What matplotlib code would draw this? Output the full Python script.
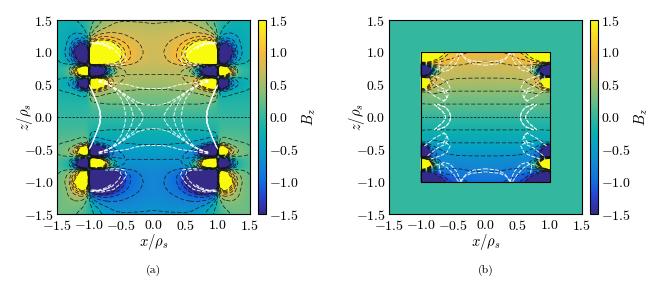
import numpy as np
import matplotlib
matplotlib.use("Agg")
import matplotlib.pyplot as plt
from matplotlib.colors import LinearSegmentedColormap

plt.rcParams["font.family"] = "cmr10"
plt.rcParams["mathtext.fontset"] = "cm"
plt.rcParams["axes.unicode_minus"] = False

parula_colors = ["#352a87", "#2b3fd0", "#0f6fe0", "#1485d4", "#069fc8", "#0dafb0",
                 "#33b7a0", "#6dbd84", "#a3bd6a", "#d1bb59", "#f7ba3c", "#f7d92a", "#f9fb0e"]
parula = LinearSegmentedColormap.from_list("parula", parula_colors)

tick_vals = [-1.5, -1.0, -0.5, 0.0, 0.5, 1.0, 1.5]
tick_labels = [r"$%.1f$" % v for v in tick_vals]
levels = np.array([-14, -12, -10, -8, -6, -4, -2, 2, 4, 6, 8, 10, 12, 14]) / 10

# upper right quadrant of panel (a), the rest follows by mirroring
xa = [0, .2, .4, .5, .6, .7, .8, .9, .98, 1.02, 1.1, 1.2, 1.3, 1.4, 1.5]
za = [0, .2, .4, .45, .5, .55, .6, .65, .72, .78, .82, .9, 1.0, 1.1, 1.2, 1.3, 1.4, 1.5]
Ba = [
    [0, 0, 0, 0, 0, 0, 0, 0, 0, 0, 0, 0, 0, 0, 0],
    [.21, .21, .21, .2, .2, .2, .18, .15, .1, -.05, -.08, -.08, -.08, -.08, -.07],
    [.38, .38, .39, .4, .42, .45, .5, .6, .6, -.3, -.3, -.25, -.22, -.2, -.18],
    [.42, .42, .44, .46, .5, .6, 1.1, 2, 2, -1.8, -1.3, -.5, -.3, -.25, -.2],
    [.47, .47, .5, .53, .58, .9, 2.4, 3, 3, -3, -2.6, -.8, -.45, -.3, -.22],
    [.5, .5, .55, .6, .7, 1.2, 3, 4, 4, -4, -3, -.8, -.4, -.28, -.2],
    [.55, .55, .58, .62, .7, .9, 1.5, 2, 1, -1, -1, -.5, -.3, -.22, -.18],
    [.6, .6, .6, .6, .55, .1, -1.6, -3, -3, 3, 2, .6, .15, -.05, -.1],
    [.62, .64, .62, .55, .2, -.8, -2.5, -4, -4, 4, 3.5, 1.4, .2, 0, -.08],
    [.65, .68, .7, .7, .6, .1, -1.6, -3, -3, 3, 2, .6, .15, -.02, -.1],
    [.7, .72, .85, 1, 1.3, 1.5, 2.2, 3, 3, -1.4, -1.4, -.6, -.3, -.2, -.15],
    [.72, .8, 1.05, 1.35, 2, 3, 4, 4, 4, -3, -2.8, -1.1, -.5, -.3, -.2],
    [.73, .82, 1.05, 1.45, 2.4, 4, 5, 5, 5, -3.5, -3.2, -1.9, -.6, -.35, -.24],
    [.73, .8, 1, 1.2, 1.55, 2.4, 3, 2.5, 1.6, -1, -2, -1.2, -.5, -.33, -.25],
    [.72, .75, .85, .95, 1.05, 1.15, 1.2, 1.1, .8, -.5, -.7, -.6, -.45, -.3, -.24],
    [.68, .7, .75, .78, .8, .8, .75, .6, .3, -.1, -.35, -.4, -.35, -.28, -.24],
    [.62, .64, .66, .66, .65, .6, .5, .35, .15, -.05, -.2, -.27, -.28, -.26, -.24],
    [.57, .58, .58, .58, .56, .5, .4, .25, .1, 0, -.12, -.2, -.24, -.24, -.24],
]

# same for panel (b), inside the box only
xb = [0, .2, .4, .6, .7, .8, .85, .9, .95, 1.0]
zb = [0, .2, .4, .5, .55, .6, .65, .7, .75, .8, .85, .9, .95, 1.0]
Bb = [
    [0, 0, 0, 0, 0, 0, 0, 0, 0, 0],
    [.2, .2, .2, .2, .2, .2, .2, .2, .2, .2],
    [.4, .4, .4, .4, .42, .45, .45, .4, .35, .3],
    [.5, .5, .5, .52, .58, .7, .9, 1.6, 3, 3],
    [.55, .55, .56, .58, .7, .9, 1.3, 2.8, 4, 4],
    [.6, .6, .6, .62, .72, .85, .9, 1.4, 2.4, 3],
    [.64, .64, .66, .68, .72, .6, .2, -.8, -2, -2.4],
    [.67, .68, .7, .7, .6, -.2, -1.6, -3.5, -5, -5],
    [.71, .72, .75, .72, .6, -.2, -1.6, -3.5, -5, -5],
    [.75, .76, .8, .8, .8, .7, .3, -.4, -1.6, -2.4],
    [.79, .82, .84, .88, .95, 1.1, 1.2, 1.4, 1.8, 2],
    [.82, .87, .92, 1.05, 1.25, 1.6, 2, 3, 3, 3],
    [.87, .92, 1, 1.15, 1.5, 2.2, 3, 4, 4, 4],
    [.98, .98, 1.05, 1.3, 1.8, 3, 4, 4, 4, 4],
]

# field lines, upper right quadrant
white_a = [
    ([1.0, .93, .87, .83, .82, .83, .87, .93, 1.0], [.5, .35, .2, .1, 0, -.1, -.2, -.35, -.5]),
    ([.98, .92, .87, .84, .83, .84, .87, .92, .98], [.47, .33, .2, .1, 0, -.1, -.2, -.33, -.47]),
    ([.85, .7, .55, .4, .3, .2, .1, 0], [.57, .54, .52, .5, .47, .45, .44, .44]),
    ([.85, .7, .55, .4, .25, .12, 0], [.56, .5, .42, .32, .23, .19, .18]),
    ([.85, .65, .5, .3, .2, .15], [.55, .47, .38, .22, .1, 0]),
    ([.85, .7, .55, .42, .34, .31], [.55, .5, .42, .28, .12, 0]),
    ([.85, .72, .6, .5, .45, .43], [.54, .52, .42, .28, .13, 0]),
    ([.98, .8, .62, .5, .42, .45, .55, .7], [1.15, 1.16, 1.12, 1.02, .9, .82, .8, .8]),
    ([.98, .8, .65, .55, .5, .52, .62, .75], [1.13, 1.14, 1.08, .98, .9, .84, .82, .82]),
    ([.95, .85, .75, .62], [1.14, 1.14, 1.12, 1.05]),
    ([.95, .85, .75, .65], [1.13, 1.13, 1.1, 1.04]),
]
white_b = [
    ([.75, .62, .56, .54, .56, .62, .75], [.2, .15, .08, 0, -.08, -.15, -.2]),
    ([.8, .68, .64, .62, .64, .68, .8], [.2, .1, .05, 0, -.05, -.1, -.2]),
    ([.38, .3, .18, 0], [1, .88, .82, .8]),
    ([.4, .33, .22, 0], [1, .92, .87, .85]),
    ([.38, .45, .55, .65, .72, .7], [1, .84, .73, .7, .76, .87]),
    ([.42, .5, .6, .7, .78], [1, .88, .78, .72, .75]),
    ([.85, .7, .6, .55, .63, .75], [.65, .6, .55, .45, .38, .42]),
    ([.95, .8, .65, .6, .66], [.45, .33, .25, .3, .42]),
    ([.9, .75, .62, .58, .6, .68], [.6, .48, .42, .35, .28, .22]),
]


def mirror(x, z, B):
    x = np.array(x)
    z = np.array(z)
    B = np.array(B, dtype=float)
    B = np.concatenate([-B[:0:-1], B], axis=0)
    B = np.concatenate([B[:, :0:-1], B], axis=1)
    return np.concatenate([-x[:0:-1], x]), np.concatenate([-z[:0:-1], z]), B


def soften(x, z, B, sigma=0.02, step=0.01):
    # resample the read values on a fine mesh and take the corners off
    gx = np.arange(x[0], x[-1] + step / 2, step)
    gz = np.arange(z[0], z[-1] + step / 2, step)
    F = np.array([np.interp(gx, x, row) for row in B])
    F = np.array([np.interp(gz, z, col) for col in F.T]).T
    n = int(3 * sigma / step)
    k = np.exp(-0.5 * (np.arange(-n, n + 1) * step / sigma) ** 2)
    k = k / k.sum()
    F = np.pad(F, n, mode="edge")
    F = np.apply_along_axis(lambda v: np.convolve(v, k, mode="same"), 0, F)
    F = np.apply_along_axis(lambda v: np.convolve(v, k, mode="same"), 1, F)
    return gx, gz, F[n:-n, n:-n]


def draw(ax, x, z, B, lines):
    X, Z, F = soften(*mirror(x, z, B))
    im = ax.pcolormesh(X, Z, F, cmap=parula, vmin=-1.5, vmax=1.5, shading="gouraud", zorder=1)
    ax.contour(X, Z, F, levels=levels, colors="#151515", linewidths=0.5,
               linestyles=[(0, (6, 3))], zorder=2)
    ax.plot([X[0], X[-1]], [0, 0], color="#151515", lw=0.55, dashes=(3.3, 1.6), zorder=2)
    for lx, lz in lines:
        lx = np.array(lx)
        lz = np.array(lz)
        for sx, sz in [(1, 1), (-1, 1), (1, -1), (-1, -1)]:
            ax.plot(sx * lx, sz * lz, color="w", lw=0.7, dashes=(4, 1.5), alpha=0.9, zorder=3)
    return im


def finish(fig, ax, cax, im, letter):
    ax.set_xlim(-1.5, 1.5)
    ax.set_ylim(-1.5, 1.5)
    ax.set_xticks(tick_vals)
    ax.set_xticklabels(tick_labels)
    ax.set_yticks(tick_vals)
    ax.set_yticklabels(tick_labels)
    ax.tick_params(labelsize=10, length=0, pad=2.5)
    ax.tick_params(axis="x", pad=3.5)
    ax.set_xlabel(r"$x/\rho_s$", fontsize=10.5)
    ax.set_ylabel(r"$z/\rho_s$", fontsize=10.5)
    ax.xaxis.set_label_coords(0.5, -18 / 194)
    ax.yaxis.set_label_coords(-22 / 193, 0.5)
    cb = fig.colorbar(im, cax=cax)
    cb.set_ticks(tick_vals)
    cb.set_ticklabels(tick_labels)
    cb.ax.tick_params(labelsize=10, length=0, pad=2)
    cb.set_label(r"$B_z$", fontsize=10.5, labelpad=1)
    ax.text(0.5, -0.292, letter, transform=ax.transAxes, ha="center", va="center", fontsize=8.5)


W, H = 664, 285
fig = plt.figure(figsize=(W / 100, H / 100), dpi=100)

ax1 = fig.add_axes([57 / W, 1 - 214 / H, 193 / W, 194 / H])
cax1 = fig.add_axes([258 / W, 1 - 214 / H, 8 / W, 194 / H])
im1 = draw(ax1, xa, za, Ba, white_a)
finish(fig, ax1, cax1, im1, "(a)")

ax2 = fig.add_axes([389 / W, 1 - 214 / H, 193 / W, 194 / H])
cax2 = fig.add_axes([590 / W, 1 - 214 / H, 8 / W, 194 / H])
ax2.set_facecolor(parula(0.5))
im2 = draw(ax2, xb, zb, Bb, white_b)
ax2.plot([-1, 1, 1, -1, -1], [-1, -1, 1, 1, -1], color="k", lw=0.8, zorder=4)
finish(fig, ax2, cax2, im2, "(b)")

fig.savefig("out.png", dpi=100)
